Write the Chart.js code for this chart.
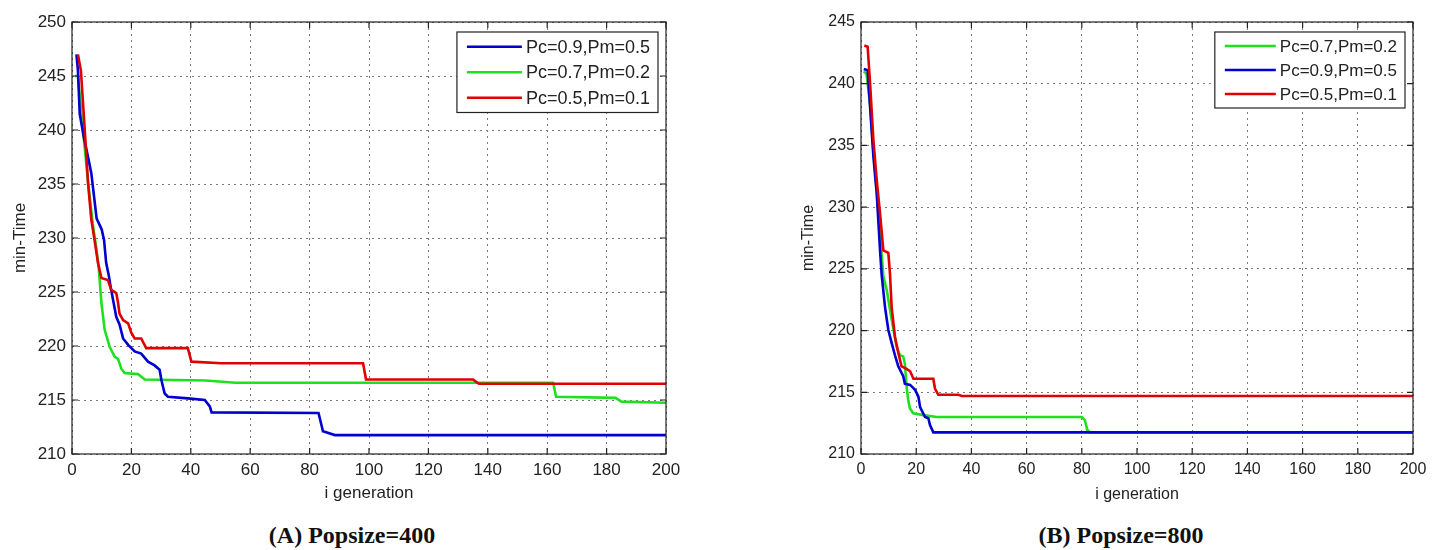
<!DOCTYPE html>
<html>
<head>
<meta charset="utf-8">
<script src="https://cdn.jsdelivr.net/npm/chart.js@4.4.1/dist/chart.umd.min.js"></script>
<style>
  body { margin: 0; background: #fff; width: 1437px; height: 550px; overflow: hidden; position: relative; }
  canvas { position: absolute; top: 0; }
  #chartA { left: 0; }
  #chartB { left: 785px; }
  .caption {
    position: absolute; top: 522px; width: 300px; text-align: center;
    font: bold 24px "Liberation Serif", "Times New Roman", serif; color: #111;
  }
</style>
</head>
<body>
<canvas id="chartA" width="700" height="510"></canvas>
<canvas id="chartB" width="652" height="510"></canvas>
<div class="caption" style="left:202px">(A) Popsize=400</div>
<div class="caption" style="left:971px">(B) Popsize=800</div>
<script>
// generation axis ticks (shared)
const genTicks = [0, 20, 40, 60, 80, 100, 120, 140, 160, 180, 200];
const timeTicksA = [210, 215, 220, 225, 230, 235, 240, 245, 250];
const timeTicksB = [210, 215, 220, 225, 230, 235, 240, 245];

// Popsize=400 runs: [generation, min-Time]
const popA_pc09 = [[1.5,247],[2,245.5],[2.6,241.5],[4,239.3],[5.4,237.5],[6.5,236],[8.3,231.8],[10,230.8],[10.8,229.8],[11.5,227.7],[12.4,226.5],[13,225.5],[13.8,224.3],[14.9,222.7],[16,222],[17.2,220.7],[18.9,220.1],[21.1,219.5],[23.3,219.3],[25.6,218.55],[27.8,218.2],[29.5,217.8],[30.1,216.85],[31.2,215.6],[32.3,215.3],[39,215.15],[44.7,215],[46.4,214.4],[47,213.85],[83,213.8],[84.5,212.1],[88.5,211.75],[200,211.75]];
const popA_pc07 = [[1,245],[2,245],[3.7,240],[5.4,235.2],[7,231.3],[8.2,229],[9,227.2],[9.9,224],[11,221.5],[12.7,219.9],[14.4,219],[15.5,218.8],[16.6,217.9],[17.7,217.5],[22.2,217.4],[24.5,216.9],[45,216.8],[55,216.6],[162,216.6],[163,215.3],[183,215.2],[185,214.85],[200,214.75]];
const popA_pc05 = [[2,247],[3,245.5],[4.3,240],[5.4,235.1],[6.5,231.7],[7.6,229.8],[8.75,227.7],[9.9,226.3],[12.1,226.1],[13.2,225.2],[14.9,224.9],[15.5,224],[16,223],[17.2,222.4],[18.9,222.1],[20,221.2],[21.1,220.7],[23.3,220.7],[25,219.8],[39,219.8],[40.2,218.55],[50.3,218.4],[98,218.4],[99,216.9],[135,216.9],[137,216.5],[200,216.5]];

// Popsize=800 runs
const popB_pc07 = [[1,241],[2,240.8],[3.3,238.3],[4.5,234.5],[5.7,231.3],[6.9,227.8],[8.1,224.4],[9.3,223.3],[11.1,220.9],[12.9,218.7],[14.1,218],[15.3,217.9],[15.9,217.3],[16.5,215.5],[17.1,214.4],[17.7,213.7],[18.9,213.3],[22.6,213.15],[27.4,213],[80,213],[81.1,212.75],[82,211.95],[83,211.75],[200,211.75]];
const popB_pc09 = [[1,241.2],[2.4,241.1],[3.3,238.1],[4.5,234.1],[5.7,231.1],[6.9,226.5],[7.5,224.5],[8.7,221.9],[9.9,220.05],[11.1,219],[12.3,218],[13.5,217.1],[15.3,216.3],[15.9,215.7],[17.8,215.6],[19.6,215.2],[20.8,214.65],[21.4,213.8],[23.2,213],[24.4,212.9],[25,212.35],[26.2,211.75],[200,211.75]];
const popB_pc05 = [[1.2,243.1],[2.4,243],[3.3,240],[4.5,235.4],[5.7,232.2],[6.9,229.5],[8.1,226.5],[9.9,226.3],[10.5,224.6],[11.1,221.9],[12.3,219.5],[13.5,218.2],[14.7,217.1],[16.5,216.9],[17.8,216.7],[19,216.1],[26.2,216.1],[26.8,215.3],[28,214.8],[35.3,214.8],[36.5,214.7],[200,214.7]];

const BLUE = '#0000d0', GREEN = '#1fe01f', RED = '#e00000';

function toXY(pairs) {
    return pairs.map(p => ({ x: p[0], y: p[1] }));
}

// lower "order" is painted on top
function series(label, pairs, color, order) {
    return {
        label: label, data: toXY(pairs), borderColor: color, backgroundColor: color,
        borderWidth: 2.6, pointRadius: 0, tension: 0, fill: false, order: order
    };
}

// box around the axes with inward tick marks on all four sides
const frame = {
    id: 'frame',
    afterDraw(chart) {
        const { ctx, chartArea: a, scales: { x, y } } = chart;
        const len = 6;
        ctx.save();
        ctx.strokeStyle = '#222';
        ctx.lineWidth = 1.2;
        ctx.strokeRect(a.left, a.top, a.right - a.left, a.bottom - a.top);
        ctx.beginPath();
        x.ticks.forEach(t => {
            const px = x.getPixelForValue(t.value);
            ctx.moveTo(px, a.bottom); ctx.lineTo(px, a.bottom - len);
            ctx.moveTo(px, a.top); ctx.lineTo(px, a.top + len);
        });
        y.ticks.forEach(t => {
            const py = y.getPixelForValue(t.value);
            ctx.moveTo(a.left, py); ctx.lineTo(a.left + len, py);
            ctx.moveTo(a.right, py); ctx.lineTo(a.right - len, py);
        });
        ctx.stroke();
        ctx.restore();
    }
};

// boxed legend in the top right corner of the plot
const boxLegend = {
    id: 'boxLegend',
    afterDraw(chart, args, opts) {
        const { ctx, chartArea: a } = chart;
        const sets = chart.data.datasets;
        ctx.save();
        ctx.font = opts.size + 'px "Liberation Sans", Arial, sans-serif';
        const tw = Math.max(...sets.map(d => ctx.measureText(d.label).width));
        const w = 10 + opts.lineLen + 4 + tw + 8;
        const h = opts.rowH * sets.length + 4;
        const x0 = a.right - 8 - w, y0 = a.top + 10;
        ctx.fillStyle = '#fff';
        ctx.fillRect(x0, y0, w, h);
        ctx.strokeStyle = '#222';
        ctx.lineWidth = 1.2;
        ctx.strokeRect(x0, y0, w, h);
        ctx.textBaseline = 'middle';
        sets.forEach((d, i) => {
            const cy = y0 + opts.rowH * (i + 0.5) + 2;
            ctx.strokeStyle = d.borderColor;
            ctx.lineWidth = 2.5;
            ctx.beginPath();
            ctx.moveTo(x0 + 10, cy); ctx.lineTo(x0 + 10 + opts.lineLen, cy);
            ctx.stroke();
            ctx.fillStyle = '#222';
            ctx.fillText(d.label, x0 + 10 + opts.lineLen + 4, cy + 1);
        });
        ctx.restore();
    }
};

function makeChart(id, datasets, yTicks, size, legendSize, padLeft, padRight) {
    const font = { family: '"Liberation Sans", Arial, sans-serif', size: size };
    return new Chart(document.getElementById(id), {
        type: 'line',
        data: { datasets: datasets },
        options: {
            responsive: false,
            animation: false,
            layout: { padding: { top: 22, right: padRight, left: padLeft, bottom: 0 } },
            plugins: {
                legend: { display: false },
                tooltip: { enabled: false },
                boxLegend: { size: legendSize, lineLen: size === 17 ? 55 : 51, rowH: size === 17 ? 25.5 : 24 }
            },
            scales: {
                x: {
                    type: 'linear', min: genTicks[0], max: genTicks[genTicks.length - 1],
                    afterBuildTicks: s => { s.ticks = genTicks.map(v => ({ value: v })); },
                    afterFit: s => { s.height = 56; },
                    grid: { color: '#7a7a7a', lineWidth: 1, drawTicks: false },
                    border: { display: false, dash: [2, 4] },
                    ticks: { color: '#222', font: font, padding: 6, maxRotation: 0 },
                    title: { display: true, text: 'i generation', color: '#222', font: font, padding: { top: 0, bottom: 6 } }
                },
                y: {
                    type: 'linear', min: yTicks[0], max: yTicks[yTicks.length - 1],
                    afterBuildTicks: s => { s.ticks = yTicks.map(v => ({ value: v })); },
                    afterFit: s => { s.width = 72; },
                    grid: { color: '#7a7a7a', lineWidth: 1, drawTicks: false },
                    border: { display: false, dash: [2, 4] },
                    ticks: { color: '#222', font: font, padding: 6 },
                    title: { display: true, text: 'min-Time', color: '#222', font: font, padding: { top: 10, bottom: 0 } }
                }
            }
        },
        plugins: [frame, boxLegend]
    });
}

makeChart('chartA', [
    series('Pc=0.9,Pm=0.5', popA_pc09, BLUE, 1),
    series('Pc=0.7,Pm=0.2', popA_pc07, GREEN, 2),
    series('Pc=0.5,Pm=0.1', popA_pc05, RED, 0)
], timeTicksA, 17, 18, 0, 34);

makeChart('chartB', [
    series('Pc=0.7,Pm=0.2', popB_pc07, GREEN, 2),
    series('Pc=0.9,Pm=0.5', popB_pc09, BLUE, 1),
    series('Pc=0.5,Pm=0.1', popB_pc05, RED, 0)
], timeTicksB, 16, 17, 4, 24);
</script>
</body>
</html>
